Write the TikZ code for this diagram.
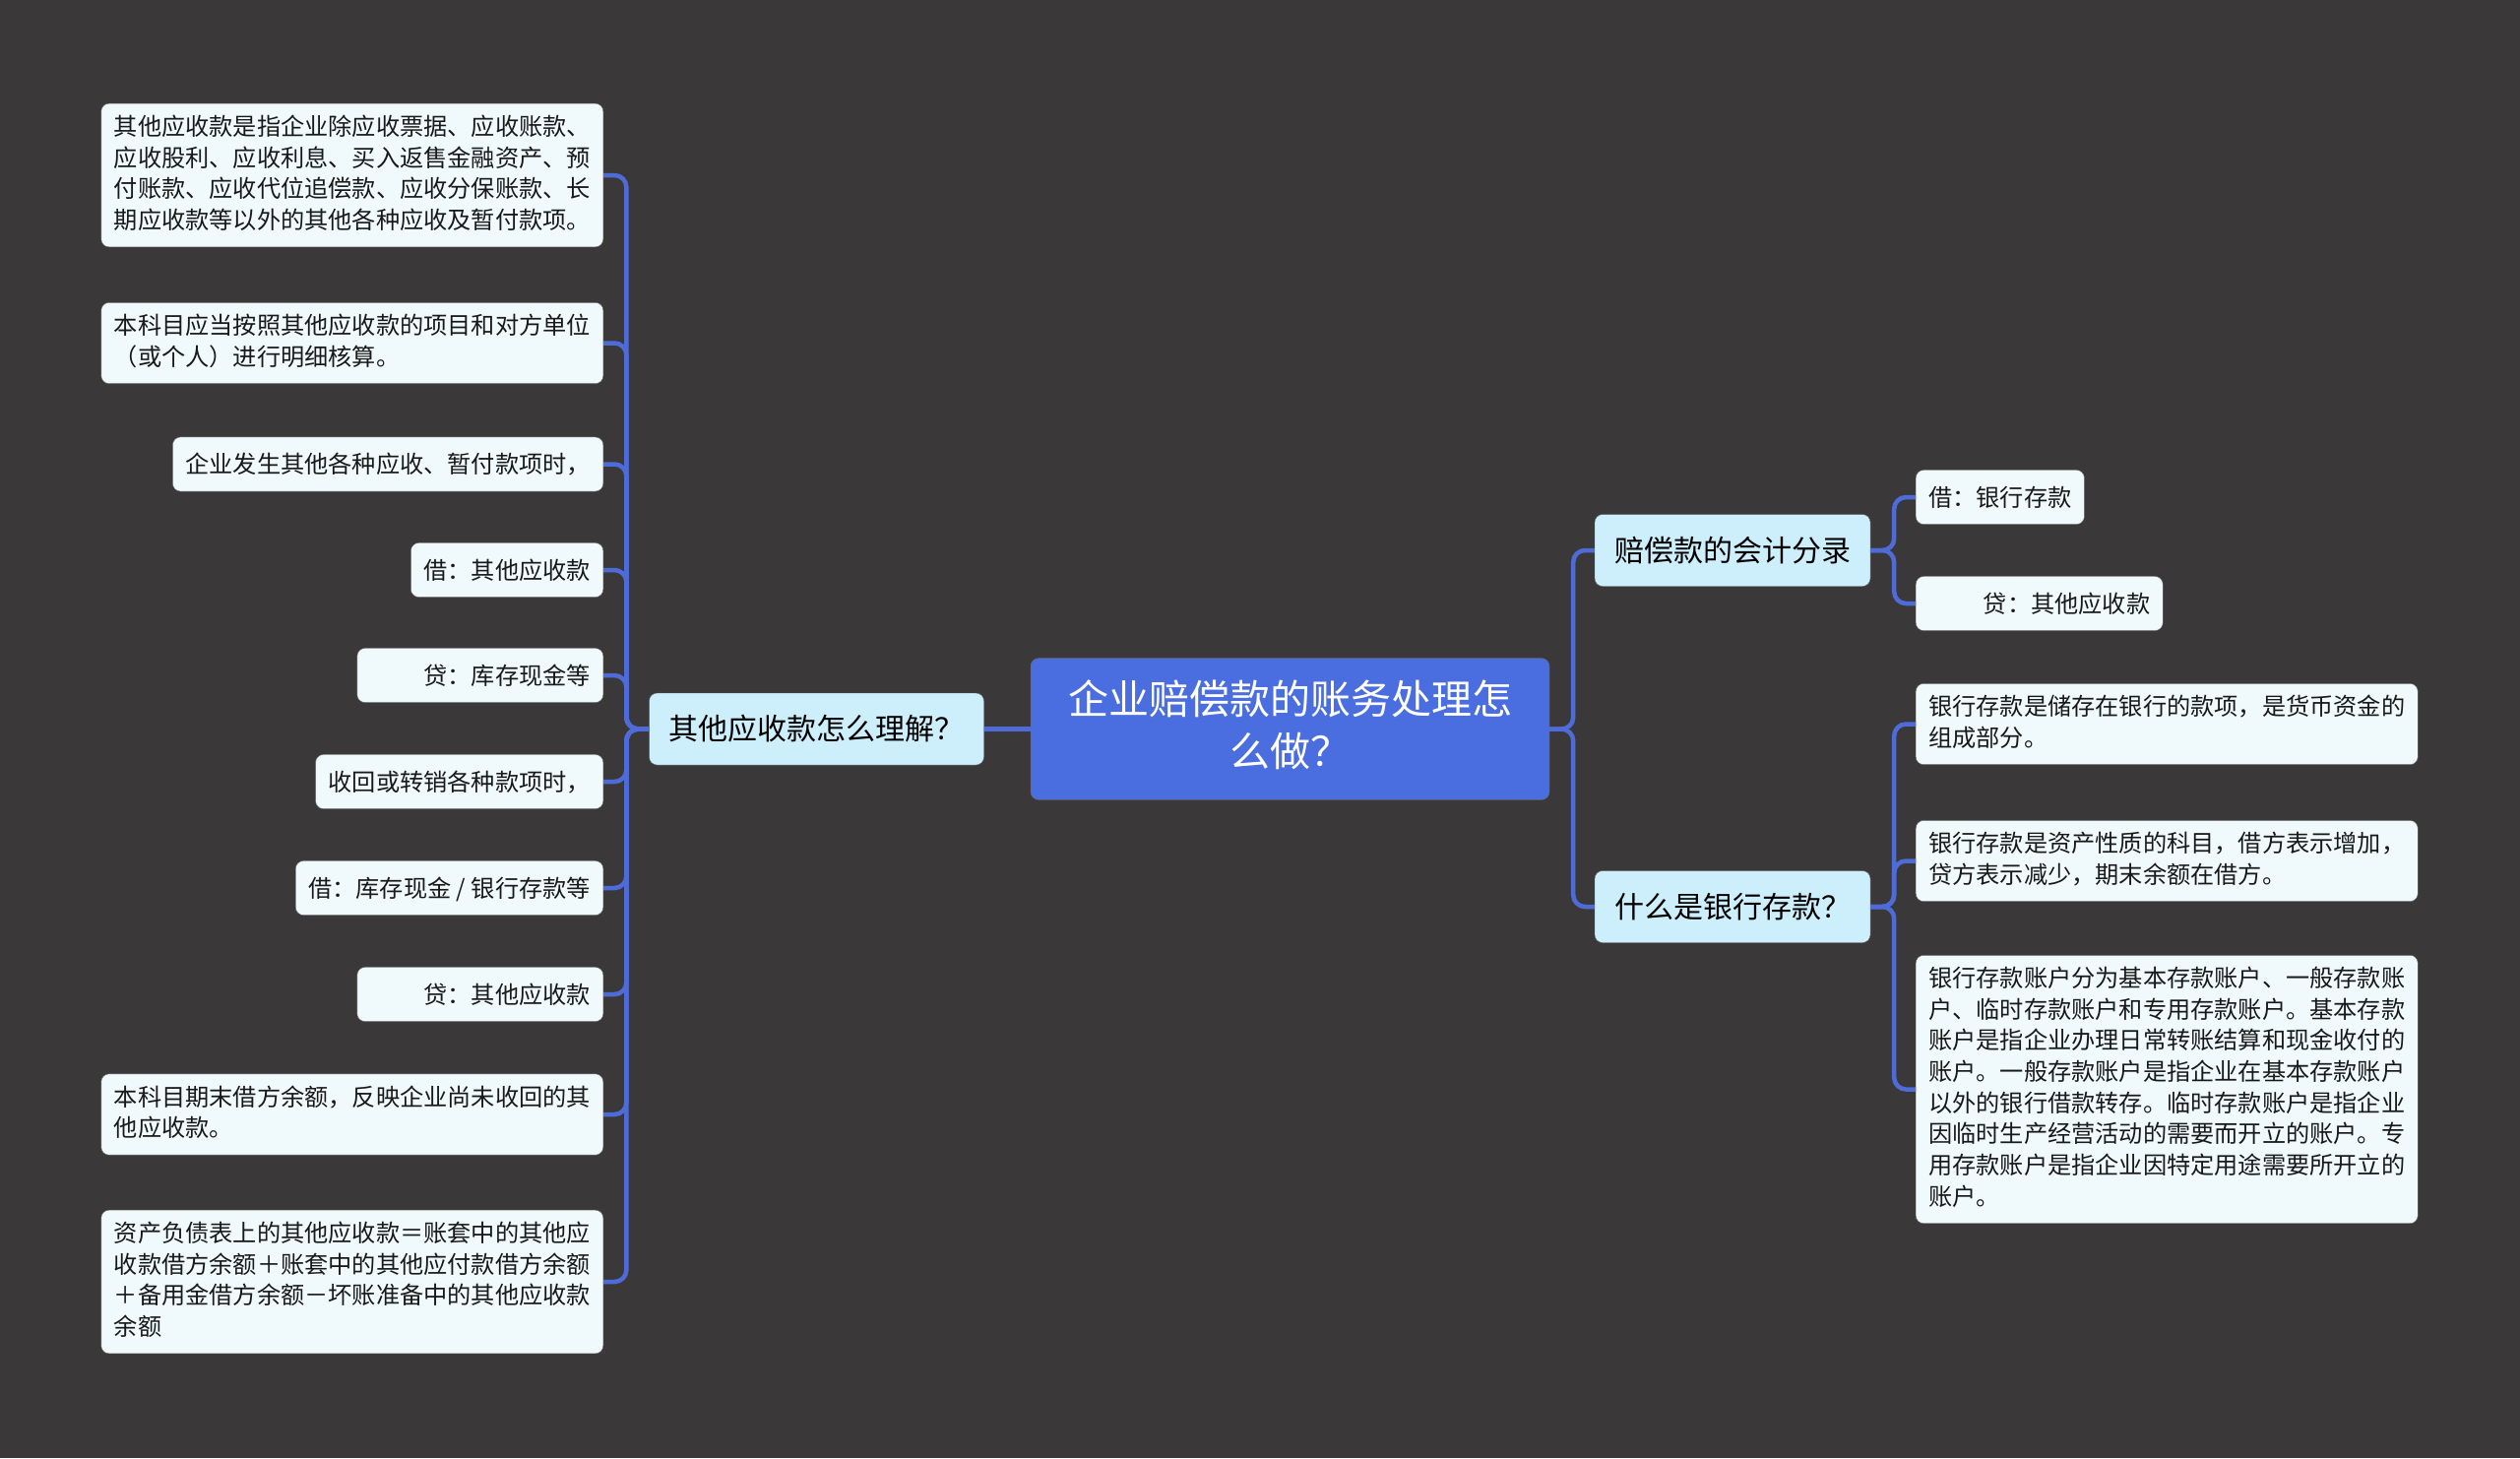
\documentclass[tikz,border=0pt]{standalone}
\usepackage{fontspec}
\setmainfont{Noto Sans CJK SC}
\usetikzlibrary{positioning}
\definecolor{bgc}{HTML}{3A3839}
\definecolor{rootc}{HTML}{4A6DDF}
\definecolor{branchc}{HTML}{CDEEFB}
\definecolor{leafc}{HTML}{F0FAFD}
\definecolor{linec}{HTML}{4E6BD8}
\newcommand\vstrut{\rule[\dimexpr-0.5\baselineskip+0.38em\relax]{0pt}{\baselineskip}}

\begin{document}
\begin{tikzpicture}[x=1pt, y=-1pt,
	root/.style={fill=rootc, draw=black!60, rounded corners=8, text=white, align=center,
		inner xsep=38, inner ysep=22.5, font=\fontsize{41}{53}\selectfont,
		execute at begin node=\vstrut, execute at end node=\vstrut},
	branch/.style={fill=branchc, draw=black!60, rounded corners=8, text=black,
		inner xsep=20, inner ysep=18.5, font=\fontsize{30}{36}\selectfont,
		execute at begin node=\vstrut, execute at end node=\vstrut},
	leaf/.style={fill=leafc, draw=black!60, rounded corners=8, text=black!90, align=left,
		inner xsep=13, inner ysep=11.7, font=\fontsize{24.2}{31.7}\selectfont,
		execute at begin node=\vstrut, execute at end node=\vstrut},
	rleaf/.style={leaf, align=right, text width=#1},
	conn/.style={draw=linec, line width=4.5, rounded corners=12}]
	\fill[bgc] (0,0) rectangle (2560,1481);
	\useasboundingbox (0,0) rectangle (2560,1481);

	\node[root] (root) at (1310.5,740.5) {企业赔偿款的账务处理怎\\么做？};

	\node[branch] (q1) at (829.5,740.5) {其他应收款怎么理解？};
	\node[branch] (q2) at (1760,559) {赔偿款的会计分录};
	\node[branch] (q3) at (1760,921) {什么是银行存款？};

	\node[leaf, anchor=east] (l1) at (613,178) {其他应收款是指企业除应收票据、应收账款、\\应收股利、应收利息、买入返售金融资产、预\\付账款、应收代位追偿款、应收分保账款、长\\期应收款等以外的其他各种应收及暂付款项。};
	\node[leaf, anchor=east] (l2) at (613,348.5) {本科目应当按照其他应收款的项目和对方单位\\（或个人）进行明细核算。};
	\node[leaf, anchor=east] (l3) at (613,471.5) {企业发生其他各种应收、暂付款项时，};
	\node[leaf, anchor=east] (l4) at (613,579) {借：其他应收款};
	\node[rleaf=224, anchor=east] (l5) at (613,686) {贷：库存现金等};
	\node[leaf, anchor=east] (l6) at (613,794) {收回或转销各种款项时，};
	\node[leaf, anchor=east] (l7) at (613,902) {借：库存现金 / 银行存款等};
	\node[rleaf=224, anchor=east] (l8) at (613,1010) {贷：其他应收款};
	\node[leaf, anchor=east] (l9) at (613,1132) {本科目期末借方余额，反映企业尚未收回的其\\他应收款。};
	\node[leaf, anchor=east] (l10) at (613,1302) {资产负债表上的其他应收款＝账套中的其他应\\收款借方余额＋账套中的其他应付款借方余额\\＋备用金借方余额－坏账准备中的其他应收款\\余额};

	\node[leaf, anchor=west] (r1) at (1946,505) {借：银行存款};
	\node[rleaf=225, anchor=west] (r2) at (1946,613) {贷：其他应收款};

	\node[leaf, anchor=west] (s1) at (1946,735.5) {银行存款是储存在银行的款项，是货币资金的\\组成部分。};
	\node[leaf, anchor=west] (s2) at (1946,874.5) {银行存款是资产性质的科目，借方表示增加，\\贷方表示减少，期末余额在借方。};
	\node[leaf, anchor=west] (s3) at (1946,1106.5) {银行存款账户分为基本存款账户、一般存款账\\户、临时存款账户和专用存款账户。基本存款\\账户是指企业办理日常转账结算和现金收付的\\账户。一般存款账户是指企业在基本存款账户\\以外的银行借款转存。临时存款账户是指企业\\因临时生产经营活动的需要而开立的账户。专\\用存款账户是指企业因特定用途需要所开立的\\账户。};

	\draw[conn] (root.west) -- (q1.east);
	\draw[conn] (root.east) -- ++(24,0) |- (q2.west);
	\draw[conn] (root.east) -- ++(24,0) |- (q3.west);
	\foreach \n in {l1,l2,l3,l4,l5,l6,l7,l8,l9,l10}
		\draw[conn] (q1.west) -- ++(-23,0) |- (\n.east);
	\foreach \n in {r1,r2}
		\draw[conn] (q2.east) -- ++(24,0) |- (\n.west);
	\foreach \n in {s1,s2,s3}
		\draw[conn] (q3.east) -- ++(24,0) |- (\n.west);
\end{tikzpicture}
\end{document}
